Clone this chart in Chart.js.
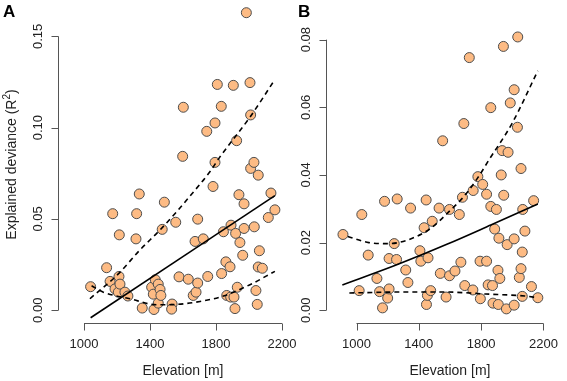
<!DOCTYPE html>
<html>
<head>
<meta charset="utf-8">
<script src="https://cdn.jsdelivr.net/npm/chart.js@4/dist/chart.umd.min.js"></script>
<style>
  html, body { margin: 0; padding: 0; background: #fff; }
  #wrap { position: relative; width: 567px; height: 381px; overflow: hidden; }
  canvas { position: absolute; top: 0; }
  #cA { left: 0; z-index: 1; }
  #cB { left: 283px; z-index: 2; }
</style>
</head>
<body>
<div id="wrap">
  <canvas id="cA" width="310" height="381"></canvas>
  <canvas id="cB" width="284" height="381"></canvas>
</div>
<script>
// ---------------- DATA ----------------
const panelLabels = ['A', 'B'];
const xTitle = 'Elevation [m]';
const yTitleMain = 'Explained deviance (R';
const yTitleSup = '2';
const yTitleEnd = ')';

const xTicks = [1000, 1400, 1800, 2200];
const xTickLabels = ['1000', '1400', '1800', '2200'];
const yTicksA = [0, 0.05, 0.10, 0.15];
const yTickLabelsA = ['0.00', '0.05', '0.10', '0.15'];
const yTicksB = [0, 0.02, 0.04, 0.06, 0.08];
const yTickLabelsB = ['0.00', '0.02', '0.04', '0.06', '0.08'];

// Panel A points
const elevA = [1040,1137,1158,1174,1188,1208,1212,1218,1214,1248,1266,1315,1319,1335,1353,1410,1420,1424,1432,1450,
               1450,1461,1466,1474,1487,1534,1531,1556,1576,1598,1602,1632,1662,1673,1679,1689,1689,1723,1744,1750,
               1782,1794,1794,1808,1832,1834,1845,1860,1865,1885,1889,1891,1905,1909,1915,1919,1925,1929,1939,1945,
               1962,1970,1970,1984,2006,2010,2010,2030,2032,2042,2050,2056,2056,2063,2081,2117,2133,2157];
const r2A   = [0.0129,0.0233,0.0158,0.0529,0.0117,0.0099,0.0185,0.0143,0.0413,0.0099,0.0078,0.0391,0.0529,0.0637,0.0012,0.0126,0.0088,0.0004,0.0167,0.0143,
               0.0039,0.0114,0.0081,0.0443,0.0592,0.0034,0.0006,0.0482,0.0183,0.0843,0.1112,0.0170,0.0081,0.0377,0.0099,0.0149,0.0499,0.0391,0.0980,0.0185,
               0.0678,0.1026,0.0810,0.1237,0.1117,0.0201,0.0430,0.0265,0.0081,0.0238,0.0072,0.0466,0.1232,0.0072,0.0009,0.0421,0.0929,0.0126,0.0633,0.0371,
               0.0301,0.0583,0.0448,0.1630,0.1247,0.1070,0.0777,0.0810,0.0457,0.0108,0.0032,0.0740,0.0237,0.0326,0.0230,0.0508,0.0642,0.0550];

// Panel A fitted lines
const fitA_x   = [1040, 2157];
const fitA_y   = [-0.0041, 0.0628];
const upperA_x = [1036, 1208, 1339, 1461, 1562, 1642, 1764, 1824, 2006, 2157];
const upperA_y = [0.0063, 0.0199, 0.0330, 0.0440, 0.0540, 0.0625, 0.0760, 0.0840, 0.1058, 0.1264];
const lowerA_x = [1046, 1117, 1279, 1440, 1541, 1703, 1845, 2006, 2157];
const lowerA_y = [0.0134, 0.0099, 0.0063, 0.0030, 0.0031, 0.0048, 0.0078, 0.0140, 0.0213];

// Panel B points
const elevB = [913,1017,1034,1075,1131,1148,1167,1180,1200,1209,1209,1242,1257,1261,1316,1330,1347,1407,1413,1434,
               1447,1449,1455,1459,1476,1486,1530,1538,1553,1575,1597,1597,1632,1660,1670,1680,1689,1695,1724,1747,
               1749,1779,1793,1795,1810,1835,1835,1845,1862,1862,1873,1876,1887,1898,1908,1910,1914,1920,1929,1935,
               1943,1945,1962,1967,1973,1987,2012,2012,2012,2033,2035,2045,2056,2056,2064,2064,2067,2081,2123,2137,2164];
const r2B   = [0.0224,0.0058,0.0283,0.0163,0.0094,0.0055,0.0007,0.0322,0.0036,0.0153,0.0063,0.0197,0.0150,0.0329,0.0119,0.0082,0.0302,0.0176,0.0145,0.0244,
               0.0326,0.0017,0.0044,0.0155,0.0058,0.0263,0.0302,0.0109,0.0501,0.0039,0.0298,0.0102,0.0116,0.0283,0.0142,0.0334,0.0552,0.0073,0.0747,0.0060,
               0.0354,0.0395,0.0145,0.0034,0.0372,0.0343,0.0145,0.0075,0.0599,0.0307,0.0073,0.0021,0.0240,0.0298,0.0118,0.0017,0.0213,0.0094,0.0400,0.0472,
               0.0780,0.0340,0.0004,0.0194,0.0467,0.0613,0.0652,0.0211,0.0015,0.0541,0.0808,0.0097,0.0419,0.0123,0.0172,0.0041,0.0298,0.0234,0.0070,0.0324,0.0037];

// Panel B fitted lines
const fitB_x   = [909, 1250, 1580, 1862, 2164];
const fitB_y   = [0.0075, 0.0133, 0.0195, 0.0252, 0.0314];
const upperB_x = [944, 1079, 1204, 1330, 1476, 1601, 1685, 1779, 1851, 1998, 2164];
const upperB_y = [0.0218, 0.0200, 0.0197, 0.0208, 0.0242, 0.0295, 0.0334, 0.0392, 0.0445, 0.0552, 0.0708];
const lowerB_x = [954, 1300, 1560, 1830, 2081, 2164];
const lowerB_y = [0.0051, 0.0054, 0.0054, 0.0048, 0.0042, 0.0037];

// ---------------- RENDERING ----------------
const FONT = '"Liberation Sans", Arial, Helvetica, sans-serif';
const pts = (xs, ys) => xs.map((x, i) => ({ x: x, y: ys[i] }));

const rAxes = {
  id: 'rAxes',
  afterDraw(chart, args, o) {
    const ctx = chart.ctx, ca = chart.chartArea;
    const xs = chart.scales.x, ys = chart.scales.y;
    ctx.save();
    ctx.strokeStyle = '#555';
    ctx.lineWidth = 1;
    // y axis
    const x0 = Math.round(ca.left) + 0.5;
    ctx.beginPath();
    ctx.moveTo(x0, ys.getPixelForValue(o.yTicks[0]));
    ctx.lineTo(x0, ys.getPixelForValue(o.yTicks[o.yTicks.length - 1]));
    o.yTicks.forEach(t => {
      const py = Math.round(ys.getPixelForValue(t)) + 0.5;
      ctx.moveTo(x0, py); ctx.lineTo(x0 - 7, py);
    });
    // x axis
    const y0 = Math.round(ca.bottom) + 0.5;
    ctx.moveTo(xs.getPixelForValue(o.xTicks[0]), y0);
    ctx.lineTo(xs.getPixelForValue(o.xTicks[o.xTicks.length - 1]), y0);
    o.xTicks.forEach(t => {
      const px = Math.round(xs.getPixelForValue(t)) + 0.5;
      ctx.moveTo(px, y0); ctx.lineTo(px, y0 + 7);
    });
    ctx.stroke();

    ctx.fillStyle = '#222';
    ctx.font = '13px ' + FONT;
    // y tick labels (rotated)
    o.yTicks.forEach((t, i) => {
      ctx.save();
      ctx.translate(x0 - 17, ys.getPixelForValue(t));
      ctx.rotate(-Math.PI / 2);
      ctx.textAlign = 'center';
      ctx.textBaseline = 'alphabetic';
      ctx.fillText(o.yLabels[i], 0, 0);
      ctx.restore();
    });
    // x tick labels
    ctx.textAlign = 'center';
    ctx.textBaseline = 'alphabetic';
    o.xTicks.forEach((t, i) => {
      ctx.fillText(o.xLabels[i], xs.getPixelForValue(t), ca.bottom + 25);
    });
    // x title
    ctx.font = '14px ' + FONT;
    const xc = (xs.getPixelForValue(o.xTicks[0]) + xs.getPixelForValue(o.xTicks[o.xTicks.length - 1])) / 2;
    ctx.fillText(o.xTitle, xc, ca.bottom + 52);

    // y title
    if (o.yTitle) {
      ctx.save();
      ctx.translate(15.5, (ca.top + ca.bottom) / 2);
      ctx.rotate(-Math.PI / 2);
      ctx.textAlign = 'left';
      const f1 = '14px ' + FONT, f2 = '10px ' + FONT;
      ctx.font = f1; const w1 = ctx.measureText(o.yTitle[0]).width;
      ctx.font = f2; const w2 = ctx.measureText(o.yTitle[1]).width;
      ctx.font = f1; const w3 = ctx.measureText(o.yTitle[2]).width;
      let sx = -(w1 + w2 + w3) / 2;
      ctx.font = f1; ctx.fillText(o.yTitle[0], sx, 0); sx += w1;
      ctx.font = f2; ctx.fillText(o.yTitle[1], sx, -6); sx += w2;
      ctx.font = f1; ctx.fillText(o.yTitle[2], sx, 0);
      ctx.restore();
    }
    // panel letter
    ctx.font = 'bold 17px ' + FONT;
    ctx.fillStyle = '#000';
    ctx.textAlign = 'left';
    ctx.fillText(o.panel, o.panelX, 17);
    ctx.restore();
  }
};

function makeChart(id, cfg) {
  const lineStyle = (data, dashed) => ({
    type: 'line',
    data: data,
    borderColor: '#000',
    borderWidth: 1.6,
    borderDash: dashed ? [5, 4] : [],
    pointRadius: 0,
    fill: false,
    cubicInterpolationMode: 'monotone',
    clip: false,
    order: 0
  });
  return new Chart(document.getElementById(id), {
    type: 'scatter',
    data: {
      datasets: [
        lineStyle(cfg.fit, false),
        lineStyle(cfg.upper, true),
        lineStyle(cfg.lower, true),
        {
          type: 'scatter',
          data: cfg.points,
          pointRadius: 5,
          pointHoverRadius: 5,
          pointBackgroundColor: '#FDBB84',
          pointBorderColor: '#4d4d4d',
          pointBorderWidth: 1,
          clip: false,
          order: 1
        }
      ]
    },
    options: {
      responsive: false,
      animation: false,
      devicePixelRatio: 1,
      events: [],
      layout: { padding: cfg.padding },
      scales: {
        x: { type: 'linear', min: cfg.xmin, max: cfg.xmax, display: false },
        y: { type: 'linear', min: cfg.ymin, max: cfg.ymax, display: false }
      },
      plugins: {
        legend: { display: false },
        tooltip: { enabled: false },
        rAxes: cfg.axes
      }
    },
    plugins: [rAxes]
  });
}

makeChart('cA', {
  points: pts(elevA, r2A),
  fit: pts(fitA_x, fitA_y),
  upper: pts(upperA_x, upperA_y),
  lower: pts(lowerA_x, lowerA_y),
  padding: { left: 58, right: 27, top: 0, bottom: 58 },
  xmin: 842.4, xmax: 2206.1,
  ymin: -0.00699, ymax: 0.16667,
  axes: {
    xTicks: xTicks, xLabels: xTickLabels,
    yTicks: yTicksA, yLabels: yTickLabelsA,
    xTitle: xTitle,
    yTitle: [yTitleMain, yTitleSup, yTitleEnd],
    panel: panelLabels[0], panelX: 3
  }
});

makeChart('cB', {
  points: pts(elevB, r2B),
  fit: pts(fitB_x, fitB_y),
  upper: pts(upperB_x, upperB_y),
  lower: pts(lowerB_x, lowerB_y),
  padding: { left: 43, right: 0, top: 0, bottom: 58 },
  xmin: 804.1, xmax: 2312.7,
  ymin: -0.003772, ymax: 0.089953,
  axes: {
    xTicks: xTicks, xLabels: xTickLabels,
    yTicks: yTicksB, yLabels: yTickLabelsB,
    xTitle: xTitle,
    yTitle: null,
    panel: panelLabels[1], panelX: 15
  }
});
</script>
</body>
</html>
